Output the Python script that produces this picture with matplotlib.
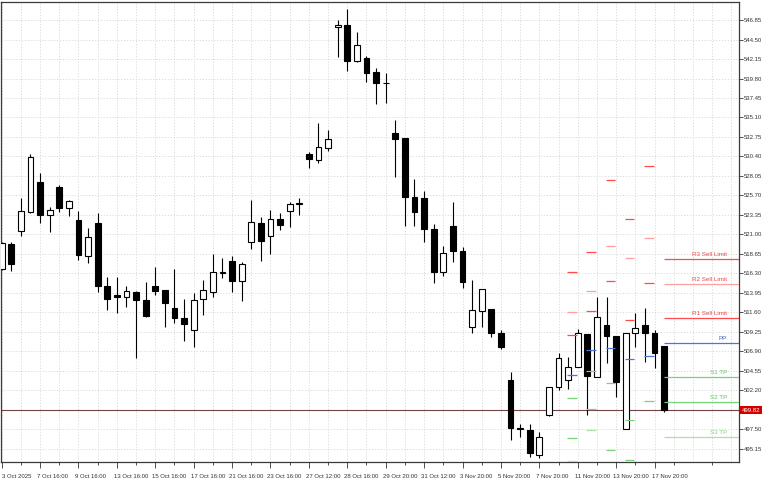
import matplotlib.pyplot as plt
import matplotlib.transforms as mtransforms
import numpy as np

plt.rcParams['font.family'] = ['Liberation Sans', 'DejaVu Sans']

# OHLC candles, one per bar
opens = [516.84, 519.86, 521.42, 523.71, 527.33, 523.35, 526.72, 524.19, 522.75, 518.41,
         522.39, 514.79, 513.71, 513.47, 514.07, 513.11, 514.79, 514.31, 512.14, 510.94,
         509.49, 513.23, 514.07, 516.36, 517.81, 515.40, 520.10, 522.39, 520.82, 522.87,
         523.83, 524.68, 530.70, 529.98, 531.43, 546.01, 546.25, 541.91, 542.27, 540.58,
         539.26, 533.23, 532.63, 525.52, 525.40, 521.66, 516.48, 522.02, 519.01, 509.85,
         511.78, 512.02, 509.13, 503.47, 497.68, 497.44, 494.43, 499.25, 502.62, 503.47,
         505.03, 509.01, 503.83, 510.09, 508.77, 497.56, 509.13, 510.09, 509.13, 507.56]
highs = [520.10, 520.10, 525.40, 530.70, 528.41, 524.31, 526.97, 525.16, 523.83, 521.78,
         523.59, 515.88, 515.88, 514.79, 514.19, 515.28, 517.08, 514.31, 516.84, 513.23,
         513.95, 515.52, 518.65, 518.17, 518.41, 517.69, 525.16, 523.11, 523.95, 523.59,
         524.92, 525.40, 530.94, 534.44, 533.59, 546.85, 548.18, 545.40, 542.51, 541.07,
         540.46, 534.80, 532.63, 527.69, 526.24, 522.27, 519.62, 524.92, 519.49, 515.52,
         514.43, 512.02, 509.49, 504.43, 498.16, 498.16, 497.20, 502.62, 506.72, 506.24,
         509.61, 509.01, 513.47, 513.47, 508.77, 509.13, 511.54, 512.14, 509.49, 507.56]
lows = [516.72, 516.60, 520.82, 523.59, 522.39, 521.30, 523.71, 523.23, 517.93, 517.57,
        514.07, 511.90, 511.54, 512.26, 506.12, 511.06, 513.71, 509.85, 510.34, 508.17,
        507.44, 511.30, 513.47, 515.76, 514.07, 512.99, 519.25, 517.81, 518.65, 521.54,
        521.90, 523.35, 529.01, 529.62, 531.06, 542.39, 540.70, 541.79, 539.38, 536.73,
        536.85, 527.93, 522.02, 522.02, 520.10, 515.16, 516.00, 517.69, 514.55, 509.13,
        509.85, 508.65, 507.20, 496.24, 496.60, 494.19, 494.07, 499.13, 502.26, 502.38,
        505.03, 499.25, 503.83, 505.52, 501.42, 497.56, 507.44, 505.64, 504.91, 499.61]
closes = [519.98, 517.45, 523.83, 530.34, 523.35, 523.95, 524.19, 525.04, 518.53, 520.70,
          514.79, 513.23, 513.47, 514.19, 513.11, 511.18, 514.19, 512.75, 510.94, 510.22,
          513.11, 514.31, 516.48, 516.48, 515.40, 517.45, 522.51, 520.22, 522.87, 522.15,
          524.68, 524.80, 530.10, 531.55, 532.51, 546.25, 541.91, 543.84, 540.46, 539.26,
          539.20, 532.51, 525.52, 523.71, 521.66, 516.48, 518.77, 519.01, 515.28, 511.90,
          514.43, 509.13, 507.44, 497.68, 497.56, 494.67, 496.60, 502.62, 506.12, 505.03,
          509.13, 503.95, 511.06, 508.77, 503.23, 509.13, 509.73, 509.13, 506.72, 499.82]

date_labels = ["3 Oct 2025", "7 Oct 16:00", "9 Oct 16:00", "13 Oct 16:00", "15 Oct 16:00",
               "17 Oct 16:00", "21 Oct 16:00", "23 Oct 16:00", "27 Oct 12:00", "28 Oct 16:00",
               "29 Oct 20:00", "31 Oct 12:00", "3 Nov 20:00", "5 Nov 20:00", "7 Nov 20:00",
               "11 Nov 20:00", "13 Nov 20:00", "17 Nov 20:00"]

# daily pivot levels (earlier days drawn as short dashes)
pivot_days = [59, 61, 63, 65, 67]
r3 = [516.48, 518.89, 527.57, 522.87, 529.26]
r2 = [511.66, 514.19, 519.62, 518.17, 520.58]
r1 = [508.89, 511.78, 515.40, 510.70, 515.16]
pp = [504.07, 507.08, 507.32, 506.00, 506.36]
s1 = [501.30, 504.55, 503.11, 498.65, 500.94]
s2 = [496.48, 499.97, 495.03, 493.83, 492.14]
s3 = [493.70, 497.44, 490.81, 486.35, 486.72]

# current day levels
level_names = ["R3 Sell Limit", "R2 Sell Limit", "R1 Sell Limit", "PP", "S1 TP", "S2 TP", "S3 TP"]
final_levels = [518.05, 515.04, 510.94, 507.93, 503.83, 500.82, 496.60]
final_start = 69

bid = 499.82
yticks = [546.85, 544.50, 542.15, 539.80, 537.45, 535.10, 532.75, 530.40, 528.05, 525.70,
          523.35, 521.00, 518.65, 516.30, 513.95, 511.60, 509.25, 506.90, 504.55, 502.20,
          497.50, 495.15]
grid_y = yticks + [499.85]

line_cols = ['#ff4b4b', '#ff9e9e', '#ff4b4b', '#4a78d0', '#78d278', '#78d278', '#a6e3a6']
text_cols = ['#e84848', '#e84848', '#e84848', '#3a66c4', '#5cc45c', '#5cc45c', '#7fd47f']

fig = plt.figure(figsize=(7.68, 4.8), dpi=100)
ax = fig.add_axes([1 / 768, 1 - 462 / 480, 738 / 768, 460 / 480])
ax.set_xlim(-0.07, 76.8)
ax.set_ylim(493.58, 549.02)

# grid
for g in grid_y:
    ax.axhline(g, color='#d6d6d6', lw=0.6, ls=(0, (1.5, 2)), zorder=0)
for gx in range(0, 77, 2):
    ax.axvline(gx, color='#d6d6d6', lw=0.6, ls=(0, (1.5, 2)), zorder=0)

# bid line
ax.axhline(bid, color='#6e4444', lw=0.8, zorder=1.5)

# candles
x = np.arange(len(opens))
o = np.array(opens)
c = np.array(closes)
up = c >= o
ax.vlines(x, lows, highs, color='black', lw=0.8, zorder=2)
ax.bar(x, np.abs(c - o), bottom=np.minimum(o, c), width=0.6,
       color=np.where(up, 'white', 'black'), edgecolor='black', linewidth=0.8, zorder=3)

# pivot dashes
for k, vals in enumerate(zip(r3, r2, r1, pp, s1, s2, s3)):
    d = pivot_days[k]
    for j, v in enumerate(vals):
        ax.hlines(v, d - 0.1, d + 0.9, color=line_cols[j], lw=0.9, zorder=4)

xr = ax.get_xlim()[1]
for j, v in enumerate(final_levels):
    ax.hlines(v, final_start - 0.05, xr, color=line_cols[j], lw=0.9, zorder=4)
    ax.text(75.55, v + 0.2, level_names[j], color=text_cols[j], fontsize=4.5,
            ha='right', va='bottom', zorder=5)

# axes look
for s in ax.spines.values():
    s.set_color('#3a3a3a')
    s.set_linewidth(0.9)
ax.yaxis.tick_right()
ax.set_yticks(yticks)
ax.set_yticklabels([f"{t:.2f}" for t in yticks])
ax.tick_params(axis='y', length=3, width=0.6, pad=0.5, labelsize=4.3, colors='#333333')

ax.set_xticks(range(0, 70, 4))
ax.set_xticklabels(date_labels)
ax.set_xticks([t for t in range(2, 77, 4)], minor=True)
ax.tick_params(axis='x', which='major', length=4, width=0.6, pad=5, labelsize=4.3, colors='#333333')
ax.tick_params(axis='x', which='minor', length=2, width=0.6, colors='#333333')
for n, lbl in enumerate(ax.get_xticklabels()):
    shift = 0 if n == 0 else -3
    offset = mtransforms.ScaledTranslation(shift / 100, 0, fig.dpi_scale_trans)
    lbl.set_horizontalalignment('left')
    lbl.set_transform(lbl.get_transform() + offset)

# bid price box on the axis
ax.text(1.004, bid, f"{bid:.2f}", transform=ax.get_yaxis_transform(), fontsize=4.3,
        color='white', va='center', ha='left', zorder=6, clip_on=False,
        bbox=dict(boxstyle='square,pad=0.25', fc='#d40000', ec='none'))

fig.savefig('out.png', dpi=100)
